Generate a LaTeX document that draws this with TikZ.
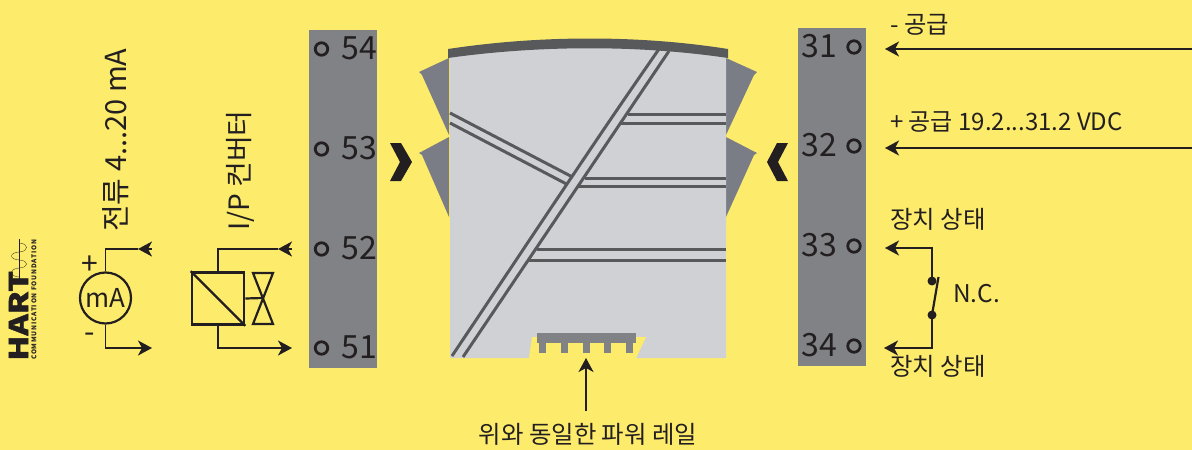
\documentclass[tikz,border=0pt]{standalone}
\usepackage{fontspec}
\setmainfont{Noto Sans CJK KR}
\usepackage{xcolor}
\usetikzlibrary{arrows.meta}
\definecolor{bgyellow}{HTML}{FDEC6B}
\definecolor{stripgray}{HTML}{808285}
\definecolor{bodygray}{HTML}{CFD1D5}
\definecolor{bandgray}{HTML}{58595B}
\definecolor{winggray}{HTML}{7B7D86}
\definecolor{inkblack}{HTML}{231F20}

\begin{document}
\begin{tikzpicture}[x=1pt,y=-1pt]
\tikzset{wire/.style={draw=inkblack,line width=1.9pt,line join=miter}}
\tikzset{wirearrow/.style={wire,-{Stealth[length=14pt,width=15pt,inset=4pt]}}}
\tikzset{stripe/.style={draw=bandgray,line width=3pt}}
\tikzset{lbl/.style={inner sep=0pt,anchor=west,text=inkblack,font=\fontsize{24.4}{28}\selectfont}}
\tikzset{pinnum/.style={inner sep=0pt,text=inkblack,font=\fontsize{32}{36}\selectfont}}
\tikzset{pin/.style={circle,draw=inkblack,line width=2.8pt,minimum size=12.5pt,inner sep=0pt}}

\fill[bgyellow] (0,0) rectangle (1192,450);
\useasboundingbox (0,0) rectangle (1192,450);

% terminal strips
\fill[stripgray] (309,30) rectangle (377,368);
\fill[stripgray] (798,28) rectangle (866,366);
\foreach \num/\ypos in {54/49,53/149,52/249,51/348} {
  \node[pin] (t\num) at (321.5,\ypos) {};
  \node[pinnum] (n\num) at (359,\ypos-1) {\num};
}
\foreach \num/\ypos in {31/47,32/146,33/246,34/346} {
  \node[pin] (t\num) at (854,\ypos) {};
  \node[pinnum] (n\num) at (819,\ypos-1) {\num};
}

% module body
\fill[winggray] (449,58) -- (419,72) -- (422,75) -- (449,135) -- cycle;
\fill[winggray] (449,137) -- (419,153) -- (422,155) -- (449,217) -- cycle;
\fill[winggray] (726,58) -- (757,72) -- (754,75) -- (726,135) -- cycle;
\fill[winggray] (726,137) -- (757,153) -- (754,155) -- (726,217) -- cycle;
\fill[bodygray] (450,50) .. controls (540,38) and (640,38) .. (726,50) -- (726,358) -- (636,358)
  -- (646,337) -- (533,337) -- (529,358) -- (450,358) -- cycle;
\fill[bgyellow] (529,358) -- (532,337) -- (646,337) -- (636,358) -- cycle;
\fill[bandgray] (448,49) .. controls (540,35) and (640,35) .. (728,49) -- (728,58)
  .. controls (640,45) and (540,45) .. (448,58) -- cycle;

% stripes
\draw[stripe] (659,49) .. controls (605,127) .. (452,356);
\draw[stripe] (669,51) -- (463,357);
\draw[stripe] (627.5,114.7) -- (726,114.7);
\draw[stripe] (620.5,123.3) -- (726,123.3);
\draw[stripe] (585,178.3) -- (726,178.3);
\draw[stripe] (577.5,186.7) -- (726,186.7);
\draw[stripe] (536.5,249.7) -- (726,249.7);
\draw[stripe] (528,260.7) -- (726,260.7);
\draw[stripe] (450,113) -- (571.5,176.5);
\draw[stripe] (450,123) -- (566.5,184);

% rail
\fill[stripgray] (537,333) rectangle (636,343);
\foreach \xpos in {539,561,583,604,626} {
  \fill[stripgray] (\xpos,343) rectangle (\xpos+7,353);
}

% chevrons
\fill[inkblack] (390,143) -- (401,143) -- (412,162) -- (401,181) -- (390,181) -- (400,162) -- cycle;
\fill[inkblack] (788,143) -- (777,143) -- (767,162) -- (777,181) -- (788,181) -- (778,162) -- cycle;

% right side
\coordinate (in31) at (1192,49);
\coordinate (tip31) at (885,49);
\coordinate (in32) at (1192,148);
\coordinate (tip32) at (885,148);
\coordinate (tip33) at (885,248);
\coordinate (tip34) at (884,348);
\draw[wirearrow] (in31) -- (tip31);
\draw[wirearrow] (in32) -- (tip32);
\node[circle,fill=inkblack,inner sep=0pt,minimum size=9pt] (sw1) at (932,281) {};
\node[circle,fill=inkblack,inner sep=0pt,minimum size=9pt] (sw2) at (932,315) {};
\draw[wirearrow] (sw1.center) |- (tip33);
\draw[wirearrow] (sw2.center) |- (tip34);
\draw[wire,line width=2.2pt] (sw2.center) -- (938.5,277);
\node[lbl] (minus) at (890,25) {- 공급};
\node[lbl,font=\fontsize{24}{28}\selectfont] (plus) at (890,122) {+ 공급 19.2...31.2 VDC};
\node[lbl] (stat1) at (890,219) {장치 상태};
\node[lbl] (stat2) at (890,366) {장치 상태};
\node[lbl] (nc) at (953,294) {N.C.};

% left side
\node[circle,draw=inkblack,line width=2.2pt,minimum size=51pt,inner sep=0pt,font=\fontsize{26}{28}\selectfont,text=inkblack] (meter) at (105.5,298) {mA};
\coordinate (m52) at (152,249);
\coordinate (mtip52) at (138,249);
\coordinate (m51) at (152,348);
\draw[wire] (meter.north) |- (mtip52);
\draw[wirearrow] (m52) -- (mtip52);
\draw[wirearrow] (meter.south) |- (m51);
\node[lbl,anchor=center,font=\fontsize{30}{30}\selectfont] (mplus) at (90,265) {+};
\node[lbl,anchor=center,font=\fontsize{30}{30}\selectfont] (mminus) at (90,338) {-};
\node[draw=inkblack,line width=2.6pt,minimum size=52pt,inner sep=0pt] (conv) at (218,298.5) {};
\draw[inkblack,line width=2.4pt] (conv.north west) -- (conv.south east);
\coordinate (c52) at (292,249);
\coordinate (ctip52) at (278,249);
\coordinate (c51) at (292,348);
\draw[wire] (conv.north) |- (ctip52);
\draw[wirearrow] (c52) -- (ctip52);
\draw[wirearrow] (conv.south) |- (c51);
\draw[inkblack,line width=2.2pt,line join=miter] (253,273) -- (273,273) -- (253,324) -- (273,324) -- cycle;
\draw[inkblack,line width=2.2pt] (conv.east) -- (263,298);
\node[lbl,rotate=90,font=\fontsize{29}{30}\selectfont] (curr) at (115.5,232) {전류 4...20 mA};
\node[lbl,rotate=90,font=\fontsize{28}{30}\selectfont] (ipconv) at (240,231) {I/P 컨버터};

% rail label
\node[lbl,anchor=center] (raillbl) at (588,434) {위와 동일한 파워 레일};
\coordinate (railtip) at (586,358);
\coordinate (railend) at (586,411);
\draw[wirearrow] (railend) -- (railtip);

% logo
\node[rotate=90,inner sep=0pt,xscale=1.25,anchor=west,text=inkblack,font=\fontsize{26}{28}\selectfont\bfseries\addfontfeature{FakeBold=1.5}] (hart) at (18.5,361) {HART};
\node[rotate=90,inner sep=0pt,anchor=west,text=inkblack,font=\fontsize{6.5}{7}\selectfont\bfseries\addfontfeature{LetterSpace=12}] (found) at (34,360) {COMMUNICATION FOUNDATION};
\draw[inkblack,line width=0.8pt] (19.3,239) -- (19.3,281);
\draw[inkblack,line width=0.3pt] (19.3,243) .. controls (29,243.5) and (29,251.5) .. (19.3,252) .. controls (9,252.5) and (9,259.5) .. (19.3,260) .. controls (29,260.5) and (29,267.5) .. (19.3,268) .. controls (9,268.5) and (9,276.5) .. (19.3,277);
\end{tikzpicture}
\end{document}
